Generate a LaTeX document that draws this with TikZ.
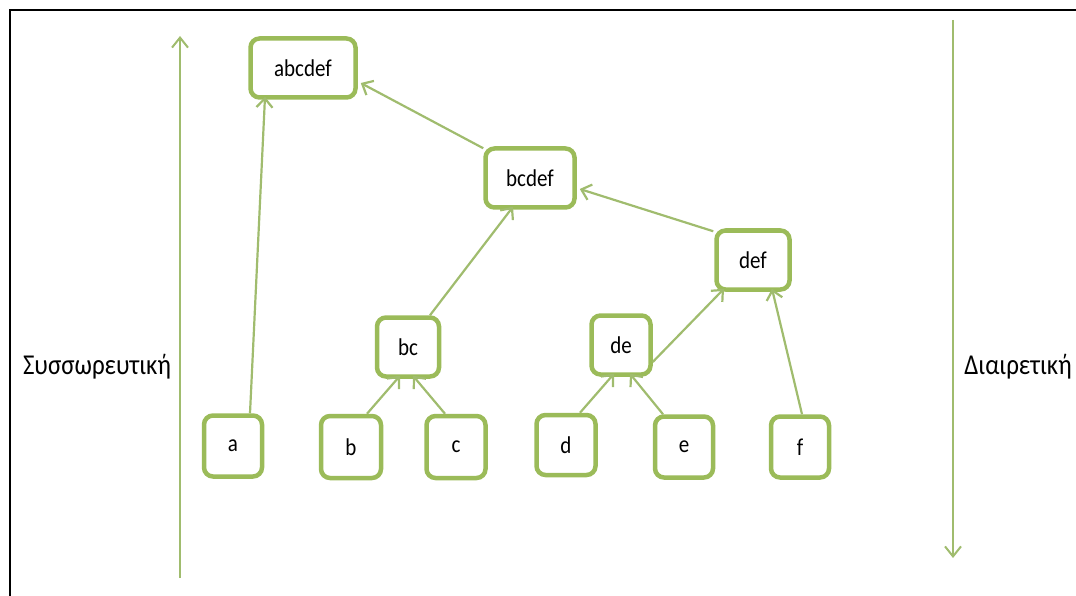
\documentclass[tikz,border=0pt]{standalone}
\usepackage{fontspec}
\setmainfont{Carlito}
\usetikzlibrary{arrows.meta}
\definecolor{olive}{RGB}{155,187,89}
\definecolor{oliveline}{RGB}{160,188,110}
\newcommand{\tallish}[1]{\scalebox{1}[1.15]{#1}}
\tikzset{
  box/.style={draw=olive, line width=4.5pt, rounded corners=9pt, fill=white,
    minimum height=59pt, inner sep=0pt, font=\fontsize{21}{24}\selectfont},
  link/.style={draw=oliveline, line width=2.2pt,
    -{Straight Barb[length=9pt,width=16pt,line width=2.2pt]}},
  axis/.style={draw=oliveline, line width=2pt,
    -{Straight Barb[length=10pt,width=16pt,line width=2pt]}},
  side/.style={font=\fontsize{25}{28}\selectfont, inner sep=0pt}
}
\begin{document}
\begin{tikzpicture}[x=1pt,y=-1pt]
  \useasboundingbox (0,0) rectangle (1076,596);
  % partial frame
  \draw[line width=2.5pt] (10,596) -- (10,10) -- (1076,10);

  % clusters
  \node[box, minimum width=105pt] (abcdef) at (303,68) {\tallish{abcdef}};
  \node[box, minimum width=89pt]  (bcdef)  at (530,178) {\tallish{bcdef}};
  \node[box, minimum width=73pt]  (def)    at (753,260) {\tallish{def}};
  \node[box, minimum width=62pt]  (bc)     at (408,347) {\tallish{bc}};
  \node[box, minimum width=59pt]  (de)     at (621,345) {\tallish{de}};

  % leaves
  \node[box, minimum width=58pt, minimum height=61pt] (a) at (233,446) {\tallish{a}};
  \node[box, minimum width=60pt, minimum height=62pt] (b) at (351,447) {\tallish{b}};
  \node[box, minimum width=59pt, minimum height=62pt] (c) at (456,447) {\tallish{c}};
  \node[box, minimum width=59pt, minimum height=60pt] (d) at (566,445) {\tallish{d}};
  \node[box, minimum width=58pt, minimum height=61pt] (e) at (684,447) {\tallish{e}};
  \node[box, minimum width=58pt, minimum height=61pt] (f) at (800,447) {\tallish{f}};

  % merges
  \draw[link] ([xshift=17pt]a.north) -- ([xshift=-38pt,yshift=3pt]abcdef.south);
  \draw[link] ([yshift=-2pt]bcdef.north west) -- ([yshift=-15pt,xshift=3pt]abcdef.east);
  \draw[link] ([xshift=22pt]bc.north) -- ([xshift=-17pt,yshift=3pt]bcdef.south);
  \draw[link] ([xshift=-1pt,yshift=-3pt]def.north west) -- ([yshift=-11pt,xshift=3pt]bcdef.east);
  \draw[link] ([yshift=-17pt]de.east) -- ([xshift=-29pt,yshift=3pt]def.south);
  \draw[link] ([xshift=2pt]f.north) -- ([xshift=19pt,yshift=3pt]def.south);
  \draw[link] ([xshift=16pt]b.north) -- ([xshift=-8pt,yshift=3pt]bc.south);
  \draw[link] ([xshift=-11pt]c.north) -- ([xshift=5pt,yshift=3pt]bc.south);
  \draw[link] ([xshift=14pt]d.north) -- ([xshift=-7pt,yshift=3pt]de.south);
  \draw[link] ([xshift=-21pt]e.north) -- ([xshift=9pt,yshift=3pt]de.south);

  % direction axes
  \coordinate (upfrom) at (180,578);
  \coordinate (upto)   at (180,36);
  \coordinate (dnfrom) at (953,20);
  \coordinate (dnto)   at (953,558);
  \draw[axis] (upfrom) -- (upto);
  \draw[axis] (dnfrom) -- (dnto);

  \node[side] (agg) at (97,367) {\tallish{Συσσωρευτική}};
  \node[side] (div) at (1018,367) {\tallish{Διαιρετική}};
\end{tikzpicture}
\end{document}
